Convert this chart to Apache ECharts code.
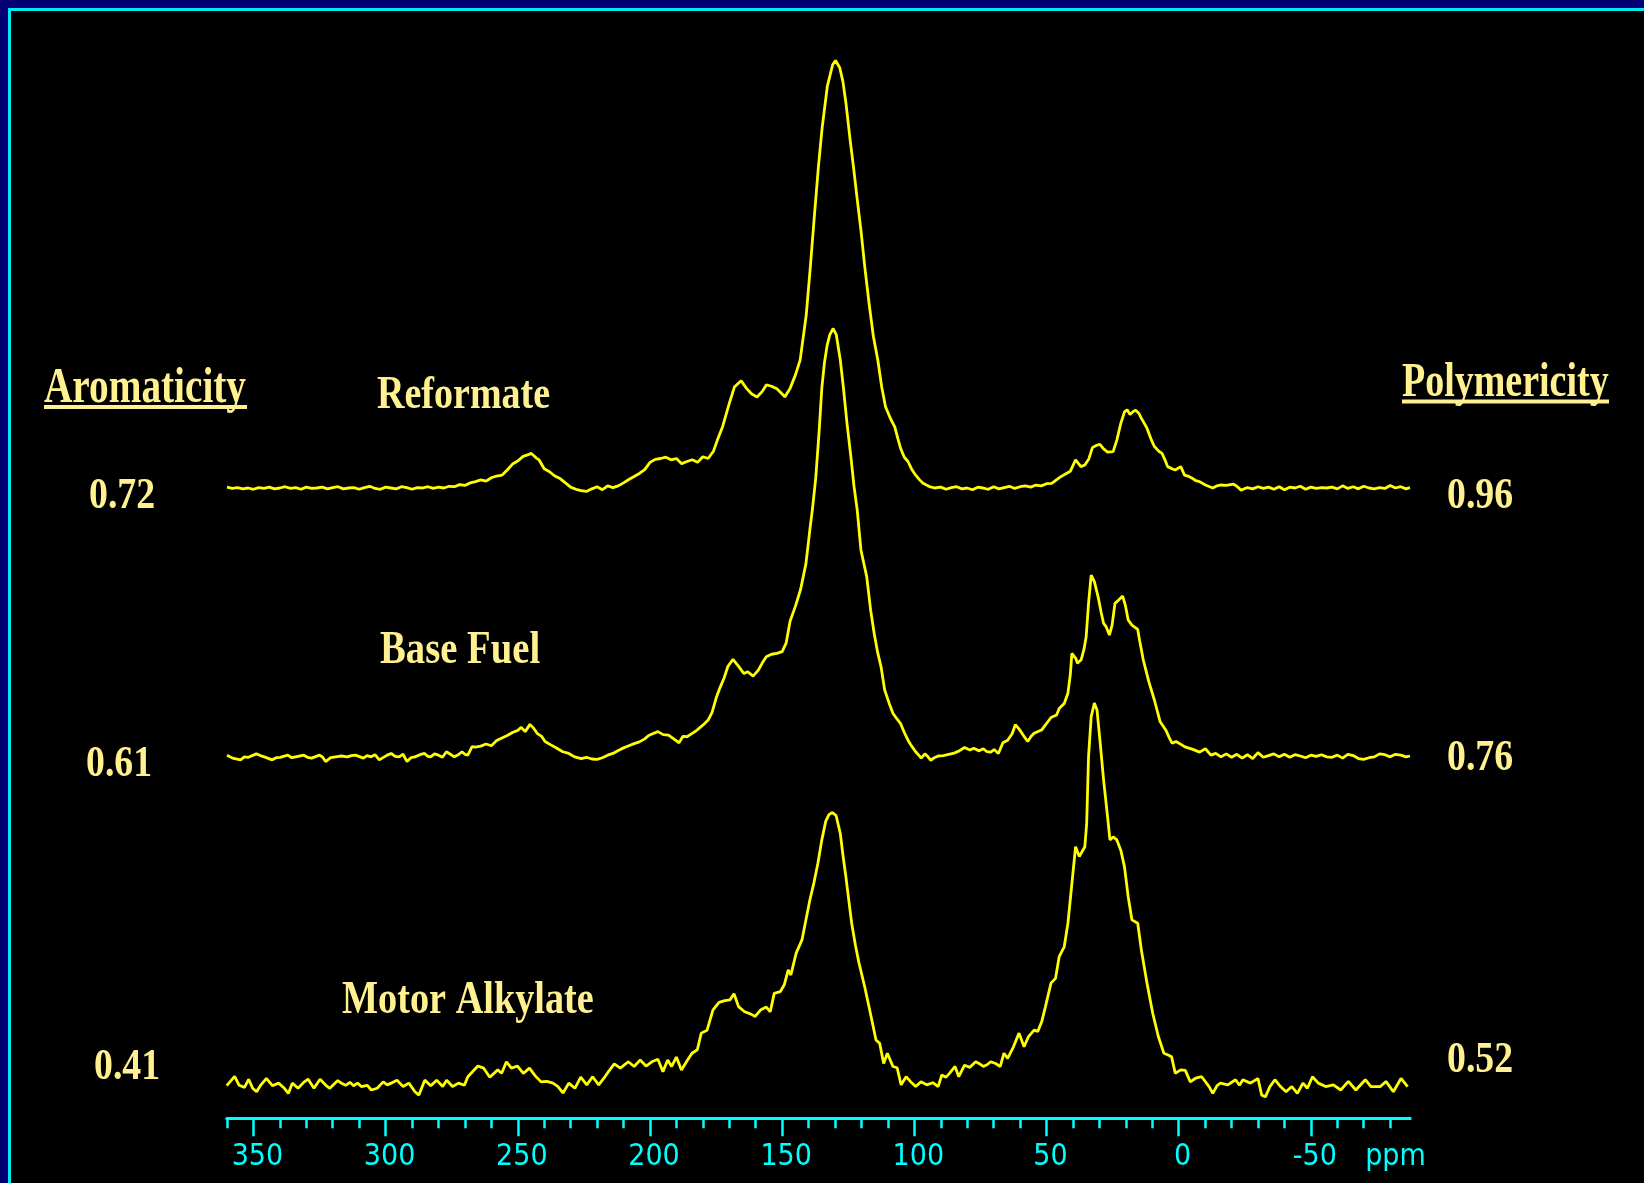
<!DOCTYPE html>
<html>
<head>
<meta charset="utf-8">
<title>13C NMR spectra</title>
<script src="https://cdn.jsdelivr.net/npm/echarts@6/dist/echarts.min.js"></script>
<style>
  html, body { margin: 0; padding: 0; background: #000; }
  #chart { width: 1644px; height: 1183px; }
</style>
</head>
<body>
<div id="chart"></div>
<script>
// Chemical-shift axis (ppm, high field to the right)
const ppmRange = [-87.5, 360];
const majorTicks = [350, 300, 250, 200, 150, 100, 50, 0, -50];
const minorTicks = [360, 340, 330, 320, 310, 290, 280, 270, 260, 240, 230, 220, 210, 190, 180, 170, 160,
  140, 130, 120, 110, 90, 80, 70, 60, 40, 30, 20, 10, -10, -20, -30, -40, -60, -70, -80];
const tickLabels = [350, 300, 250, 200, 150, 100, 50, 0, -50];
const unitLabel = { at: -80.5, text: 'ppm' };

// Sample names and the two indices printed beside each trace
const samples = ['Reformate', 'Base Fuel', 'Motor Alkylate'];
const aromaticity = ['0.72', '0.61', '0.41'];
const polymericity = ['0.96', '0.76', '0.52'];

// Intensities relative to each trace's own baseline ([ppm, intensity]), main Reformate peak = 100
const reformate = [
  [360, 0.2], [358, -0.1], [356, 0.1], [354, -0.2], [352, 0.0], [350, -0.3], [348, 0.1], [346, -0.1],
  [344, 0.2], [342, -0.2], [340, 0.0], [338, 0.3], [336, -0.1], [334, 0.1], [332, -0.3], [330, 0.2],
  [328, -0.1], [326, 0.0], [324, 0.2], [322, -0.2], [320, 0.1], [318, 0.3], [316, -0.2], [314, 0.0],
  [312, 0.1], [310, -0.3], [308, 0.1], [306, 0.4], [304, -0.1], [302, -0.3], [300, 0.2], [298, 0.0],
  [296, -0.2], [294, 0.3], [292, 0.1], [290, -0.3], [288, 0.1], [286, 0.0], [284, 0.3], [282, -0.1],
  [280, 0.2], [278, 0.0], [276, 0.4], [274, 0.3], [272, 0.8], [270, 0.6], [268, 1.2], [266, 1.5],
  [264, 1.9], [262, 1.6], [260, 2.4], [258, 2.8], [256, 3.0], [254, 4.2], [252, 5.6], [250, 6.3],
  [248, 7.4], [246, 7.8], [245, 8.1], [244, 7.6], [243, 7.0], [242, 6.6], [240, 4.5], [238, 3.8],
  [236, 2.8], [234, 2.2], [232, 1.2], [230, 0.2], [228, -0.3], [226, -0.6], [224, -0.8], [222, -0.2],
  [220, 0.3], [218, -0.4], [216, 0.5], [214, 0.1], [212, 0.5], [210, 1.2], [208, 2.0], [206, 2.7],
  [204, 3.4], [202, 4.3], [200, 6.0], [198, 6.7], [196, 6.9], [194, 7.2], [192, 6.6], [190, 6.9],
  [188, 5.7], [186, 6.2], [184, 6.6], [182, 6.0], [180, 7.3], [178, 6.9], [176, 8.6], [174.5, 11.2],
  [172.5, 14.4], [170, 19.8], [168, 23.7], [165.5, 25.1], [163.5, 23.3], [161.5, 22.0], [159.5, 21.3],
  [157.5, 22.6], [156, 24.1], [154, 23.8], [152, 23.2], [150, 22.0], [149, 21.3], [147, 23.3],
  [145, 26.4], [143.2, 29.9], [140.9, 40.4], [139.3, 52], [137.7, 64.5], [136.3, 75], [134.9, 84.1],
  [132.9, 94], [130.9, 99], [129.8, 100], [128.2, 98.3], [127, 95], [125.8, 89.7], [124.4, 82],
  [123, 75], [121.6, 67.5], [120.2, 60.3], [118.7, 51.5], [117.1, 43.1], [115.5, 35.5], [113.8, 29.9],
  [112.3, 23.5], [110.9, 19], [109, 16.2], [107.4, 14.3], [106.2, 11.5], [105.2, 9.3], [103.8, 7.2],
  [102.4, 6.2], [101, 4.4], [99.5, 3.0], [98, 1.9], [96.7, 1.1], [94.5, 0.4], [92.4, 0.0],
  [90, 0.2], [88, -0.3], [86, 0.1], [84, 0.3], [82, -0.2], [80, 0.0], [78, -0.4], [76, 0.2],
  [74, 0.0], [72, -0.3], [70, 0.3], [68, -0.2], [66, 0.1], [64, 0.4], [62, -0.1], [60, 0.3],
  [58, 0.5], [56, 0.2], [54, 0.7], [52, 0.5], [50, 1.0], [48, 1.1], [46.5, 1.8], [44.7, 2.6],
  [42.5, 3.4], [41, 3.9], [39, 6.6], [37, 5.0], [35.5, 5.4], [34, 6.8], [32.6, 9.5], [31, 10.0],
  [29.8, 10.2], [28.5, 9.2], [26.9, 8.4], [24.8, 8.5], [23.4, 11.2], [21.9, 15.1], [20.5, 17.8],
  [19.5, 18.3], [18.4, 17.2], [17.2, 17.9], [16.3, 18.2], [15, 17.4], [14.1, 16.3], [12, 14.0],
  [10.5, 11.5], [9.2, 9.7], [7.5, 8.6], [6.3, 8.1], [5, 6.3], [4.2, 5.0], [2.5, 4.5], [1.3, 4.2],
  [-0.8, 5.0], [-2.2, 3.0], [-3.5, 2.8], [-5.1, 2.3], [-6.5, 1.7], [-7.9, 1.5], [-10.1, 0.7],
  [-12.9, 0.0], [-14.5, 0.5], [-15.8, 0.7], [-18, 0.6], [-20.7, 0.9], [-22, 0.4], [-23.6, -0.5],
  [-26, 0.1], [-28, -0.2], [-30, 0.3], [-32, -0.1], [-34, 0.2], [-36, -0.3], [-38, 0.3], [-40, -0.4],
  [-42, 0.2], [-44, 0.0], [-46, 0.4], [-48, -0.3], [-50, 0.2], [-52, -0.1], [-54, 0.1], [-56, 0.0],
  [-58, 0.2], [-60, -0.2], [-62, 0.5], [-64, -0.1], [-66, 0.3], [-68, -0.2], [-70, 0.4], [-72, 0.0],
  [-74, -0.2], [-76, 0.1], [-78, -0.1], [-80, 0.6], [-82, 0.0], [-84, 0.3], [-86, -0.2], [-87.5, 0.1]
];

const baseFuel = [
  [360, 0.2], [357.9, -0.5], [354.9, -0.9], [353.4, -0.2], [351.9, -0.3], [348.9, 0.5], [347.4, 0.1],
  [345.9, -0.2], [342.9, -0.9], [341.4, -0.4], [339.9, -0.3], [337, 0.2], [335.5, -0.4], [334, -0.2],
  [331, 0.2], [329.5, -0.3], [328, -0.5], [325, 0.2], [323.8, -0.3], [322.7, -1.3], [320.8, -0.4],
  [318.9, -0.2], [316.7, 0.0], [314.5, -0.2], [313, 0.1], [311.4, 0.2], [308.4, -0.5], [307, 0.1],
  [305.5, -0.2], [304, 0.3], [302.4, -0.9], [299.4, 0.2], [297.9, 0.6], [296.4, -0.1], [294.9, -0.2],
  [293.4, 0.4], [291.9, -1.3], [290.4, -0.4], [288.9, -0.2], [287, 0.3], [285.3, 0.6], [284, -0.1],
  [283, -0.2], [281.5, 0.5], [280, 0.2], [278.5, -0.3], [277, 1.0], [275.5, 0.4], [274, -0.2],
  [272.5, 0.3], [271.1, 1.0], [270, 0.4], [268.9, 0.2], [267.3, 2.2], [266, 2.1], [264, 2.3],
  [262, 2.8], [260, 2.4], [258, 3.6], [256, 4.2], [254, 4.8], [252, 5.5], [250, 6.0], [248.7, 6.7],
  [247.2, 5.7], [245.4, 7.4], [244, 6.5], [242.7, 5.3], [241, 4.6], [239.7, 3.4], [237.5, 2.6],
  [235.2, 1.8], [233, 1.0], [230.7, 0.6], [228.5, -0.2], [226, -0.6], [224, -0.3], [222, -0.7],
  [220, -0.8], [218, -0.4], [216, 0.2], [214, 0.6], [212, 1.3], [210, 1.9], [208, 2.4], [206, 2.9],
  [204, 3.3], [202, 4.0], [200.5, 4.8], [199, 5.2], [197, 5.7], [195, 5.0], [193, 4.9], [191, 4.0],
  [189, 3.1], [187.5, 4.6], [186, 4.5], [184, 5.3], [182.5, 5.9], [181, 6.7], [179.5, 7.5],
  [178, 8.4], [176.5, 10.2], [175, 13.5], [173.5, 16.0], [172, 18.2], [170.5, 21.0], [168.6, 22.6],
  [166.4, 20.9], [164.5, 19.3], [163, 19.7], [161, 18.7], [159, 20.1], [157.5, 21.8], [156, 23.2],
  [154, 23.8], [152, 24.0], [150, 24.4], [148.5, 26.4], [147, 31.5], [145, 35], [143, 39],
  [141, 45], [139.5, 53], [138.5, 58], [137.3, 65], [136, 76], [135, 86], [134, 92], [133, 96],
  [132, 98.5], [130.7, 100], [129.5, 98.5], [128, 92.6], [126.8, 86], [125.5, 78], [124, 70],
  [122.8, 63], [121.6, 57.5], [120.2, 48.2], [118, 41.9], [116.5, 34], [115.2, 28.7], [113.8, 24],
  [112.6, 20.9], [111.2, 15.4], [109.5, 12.3], [108.1, 10.0], [106.5, 8.6], [105.2, 7.6],
  [103.8, 5.5], [102.4, 3.7], [101, 2.3], [99.5, 1.0], [98.5, 0.3], [97.4, -0.5], [96, 0.5],
  [94.8, -0.2], [93.8, -1.0], [92.4, -0.4], [91, 0.0], [89, 0.1], [87, 0.4], [85.3, 0.6], [83, 1.2],
  [81, 2.0], [79, 1.4], [77.5, 1.8], [75.5, 1.2], [73.9, 1.7], [72.5, 1.0], [71.1, 0.9], [69.8, 1.5],
  [68.2, 0.6], [66.5, 3.1], [64.7, 3.7], [63, 5.2], [61.8, 7.3], [60.5, 6.4], [59.7, 5.7],
  [58.3, 4.4], [57.1, 3.4], [55.8, 4.6], [54.7, 5.3], [53, 5.8], [51.8, 6.1], [50, 7.6], [48.3, 9.0],
  [46.2, 9.6], [45.2, 11.1], [43.3, 12.3], [41.9, 14.7], [41, 19], [40.4, 24.0], [39.8, 24.2],
  [38.9, 22.8], [38.3, 21.7], [36.9, 22.5], [35.8, 25], [35, 27.9], [34.1, 35.7], [33.1, 42.3],
  [31.9, 40.8], [30.5, 37.3], [29.3, 33.5], [28.4, 31.0], [27.4, 30.2], [26.2, 28.3], [25.2, 30.6],
  [24.1, 35.7], [22.7, 36.5], [21.2, 37.4], [20.2, 35.3], [19.1, 31.8], [17.7, 30.6], [15.5, 29.6],
  [14.8, 27.1], [13.4, 22.5], [11.3, 17.4], [9.2, 13.1], [7.0, 8.0], [4.9, 6.1], [3.5, 4.2],
  [2.5, 3.0], [1, 3.4], [-0.1, 3.0], [-2.2, 2.2], [-3.5, 1.9], [-5.1, 1.6], [-7.9, 0.9], [-10.1, 1.7],
  [-12.2, 0.2], [-14, 0.6], [-16, -0.2], [-18, 0.5], [-20, -0.3], [-22, 0.4], [-24, -0.5], [-26, 0.3],
  [-28, -0.6], [-30, 0.8], [-32, -0.3], [-34, 0.1], [-36, 0.5], [-38, -0.2], [-40, 0.4], [-42, -0.3],
  [-44, 0.3], [-46, 0.0], [-48, -0.4], [-50, 0.2], [-52, -0.1], [-54, 0.3], [-56, -0.2], [-58, -0.3],
  [-60, 0.2], [-62, -0.5], [-64, 0.4], [-66, 0.1], [-68, -0.6], [-70, -0.8], [-72, -0.4], [-74, -0.2],
  [-76, 0.5], [-78, 0.3], [-80, -0.2], [-82, 0.4], [-84, 0.2], [-86, -0.2], [-87.5, 0.0]
];

const motorAlkylate = [
  [360.1, -0.4], [357.1, 1.8], [355.4, -0.3], [353.4, -0.8], [351.8, 1.1], [350.3, -1.0],
  [348.8, -1.8], [347.3, -0.3], [345.1, 1.3], [342.8, -0.4], [340.5, 0.2], [338.3, -1.0],
  [336.8, -2.2], [335.3, 0.2], [333.1, -1.0], [330.8, 0.5], [329.3, 1.1], [327.1, -1.0],
  [324.8, 1.1], [322.6, -0.3], [321.1, -1.0], [318.1, 0.8], [316.5, 0.1], [315.1, -0.3],
  [313.5, 0.4], [312.1, -0.4], [310.6, 0.2], [309.2, -0.6], [306.9, -0.3], [305.4, -1.4],
  [303.2, -1.0], [300.9, 0.5], [299.4, -0.2], [297.9, 0.2], [295.7, 0.9], [293.4, -0.6],
  [291.2, 0.2], [288.9, -1.8], [287.4, -2.6], [285.2, 0.9], [282.9, -0.4], [280.7, 0.9],
  [278.4, -0.6], [276.9, 0.9], [274.7, -0.6], [272.4, 0.2], [270.2, -0.3], [268.9, 1.7],
  [265.1, 4.2], [262.9, 3.7], [260.6, 1.6], [257.6, 3.3], [256.1, 2.5], [254.3, 5.2], [252.4, 3.7],
  [250.1, 4.2], [247.9, 2.5], [245.6, 3.7], [243.4, 1.9], [241.2, 0.5], [239, 0.6], [236.7, 0.2],
  [234.8, -0.6], [232.9, -2.1], [230.7, 0.2], [228.4, -1.0], [226.2, 1.6], [223.9, -0.2],
  [221.7, 1.7], [219.4, -0.2], [217.5, 1.3], [215.7, 2.9], [213.5, 4.7], [211.2, 3.7], [208.2, 5.2],
  [206, 4.1], [203.7, 5.6], [201.5, 4.2], [199.3, 5.2], [197, 5.8], [195.1, 2.9], [193.3, 5.6],
  [191.8, 4.1], [190, 6.3], [188.1, 3.3], [185.9, 5.5], [184.1, 7.2], [182.1, 8.0], [180.6, 11.9],
  [178.4, 12.6], [176.2, 17.3], [173.9, 19.1], [171.7, 19.5], [169.7, 19.7], [168.2, 21.1],
  [166.5, 18.1], [164.2, 16.9], [162, 16.4], [160.2, 15.8], [158.2, 17.3], [156, 18.0],
  [154.5, 16.9], [153, 21.2], [150.7, 21.6], [149.2, 23.2], [147.7, 26.7], [146.7, 25.5],
  [144.7, 30.6], [142.5, 33.7], [141, 38.4], [139.5, 43.1], [138, 47.0], [136.5, 51.6], [135, 57.1],
  [133.5, 61.5], [132.3, 63], [131, 63.5], [129.6, 62.8], [128, 58.6], [127, 53.5], [125.9, 48.5],
  [124.8, 43], [123.7, 37.6], [122.3, 32.5], [120.9, 28.2], [118.8, 22.8], [116.6, 16.5],
  [114.5, 10.3], [113.1, 9.5], [111.6, 4.8], [110.2, 7.2], [108.1, 4.1], [106.5, 3.8], [105, -0.2],
  [103.1, 1.7], [101.5, 0.6], [99.5, -0.6], [97.5, 0.5], [95.3, -0.2], [93, 0.3], [91, -0.6],
  [89.6, 2.1], [88, 1.6], [86.7, 2.5], [84.6, 4.1], [83.2, 1.7], [81, 4.4], [79, 3.9], [76.8, 5.2],
  [75, 4.6], [73.9, 4.1], [72.5, 4.5], [71.1, 5.2], [69.3, 4.8], [67.5, 4.1], [66.1, 7.2],
  [64.7, 6.0], [62.5, 8.7], [60.4, 11.9], [58.5, 8.7], [56.8, 11.1], [54.7, 12.6], [53.3, 12.3],
  [51.8, 14.6], [50.4, 18.1], [48.3, 23.6], [46.6, 24.7], [45.2, 29.8], [43.3, 32.1], [41.9, 37.6],
  [40.4, 46.9], [39, 55.5], [37.6, 53.2], [35.5, 55.5], [34.8, 61], [34.1, 76.6], [33.1, 85.9],
  [31.9, 89.1], [30.9, 87.5], [29.8, 80.5], [28.4, 71.1], [26.9, 62.5], [26, 57.1], [24.8, 57.8],
  [23.4, 57.1], [21.9, 54.7], [20.5, 50.8], [19.1, 43.8], [17.7, 38.4], [15.5, 37.6], [14.1, 31.3],
  [12, 23.6], [9.8, 16.5], [7.7, 11.1], [5.6, 7.2], [4, 6.8], [2.7, 6.4], [1.3, 2.5], [0, 3.0],
  [-0.8, 3.3], [-2.5, 3.2], [-4.4, 0.5], [-6.5, 1.4], [-8.7, 1.7], [-11.5, -0.6], [-12.9, -2.2],
  [-14.5, -0.4], [-15.8, 0.2], [-18.6, -0.2], [-21.5, 1.0], [-23, -0.3], [-24.3, 1.0], [-27.1, 0.2],
  [-30, 1.3], [-31.4, -2.6], [-32.8, -3.0], [-34.5, -0.6], [-36.4, 1.0], [-38.5, -0.6],
  [-40.6, -1.8], [-42.8, -0.6], [-44.9, -2.2], [-47, 0.2], [-48.7, -1.0], [-50.6, 1.7],
  [-52.8, 0.2], [-55.6, -0.6], [-58.5, -0.2], [-61.3, -1.4], [-64.2, 0.6], [-67, -1.4],
  [-70.6, 1.0], [-72.7, -0.6], [-76.3, -0.6], [-78.4, 0.6], [-81.2, -1.8], [-84.1, 1.3], [-86.6, -0.6]
];

const traces = [reformate, baseFuel, motorAlkylate];

// Layout: every trace shares the same horizontal scale and the same intensity scale
const plotLeft = 227, plotWidth = 1183;
const baselines = [488, 756, 1084];
const pxPerUnit = 4.275;
const yRange = [-8, 110];
const gridHeight = (yRange[1] - yRange[0]) * pxPerUnit;

const textColor = '#FFF18F';
const traceColor = '#FFFF00';
const axisColor = '#00FFFF';
const serif = "'Liberation Serif', 'Times New Roman', serif";
const axisFont = "'DejaVu Sans Condensed', 'Liberation Sans Narrow', sans-serif";

const grids = baselines.map(b => ({
  left: plotLeft, width: plotWidth, top: b - yRange[1] * pxPerUnit, height: gridHeight,
  outerBoundsMode: 'none'
}));
// extra grid that only carries the minor tick marks of the ppm axis
grids.push(Object.assign({}, grids[2]));

const baseX = { type: 'value', min: ppmRange[0], max: ppmRange[1], inverse: true,
  splitLine: { show: false } };
const xAxes = [
  Object.assign({ gridIndex: 0, show: false }, baseX),
  Object.assign({ gridIndex: 1, show: false }, baseX),
  Object.assign({ gridIndex: 2, position: 'bottom' }, baseX, {
    axisLine: { show: true, onZero: false, lineStyle: { color: axisColor, width: 3 } },
    axisTick: { show: true, customValues: majorTicks, length: 18, lineStyle: { color: axisColor, width: 2.5 } },
    axisLabel: {
      show: true, customValues: tickLabels.concat([unitLabel.at]), margin: 24,
      color: axisColor, fontFamily: axisFont, fontSize: 30, padding: [0, 0, 0, 8],
      formatter: v => (v === unitLabel.at ? unitLabel.text : String(v))
    }
  }),
  Object.assign({ gridIndex: 3, position: 'bottom' }, baseX, {
    axisLine: { show: true, onZero: false, lineStyle: { color: axisColor, width: 3 } },
    axisTick: { show: true, customValues: minorTicks, length: 10, lineStyle: { color: axisColor, width: 2.5 } },
    axisLabel: { show: false }
  })
];
const yAxes = [0, 1, 2, 3].map(i => ({ gridIndex: i, type: 'value', min: yRange[0], max: yRange[1], show: false }));

const series = traces.map((d, i) => ({
  type: 'line', xAxisIndex: i, yAxisIndex: i, data: d, showSymbol: false, symbol: 'none',
  lineStyle: { color: traceColor, width: 2.8 }, silent: true, z: 3
}));

// Text labels (narrow bold serif, drawn with a horizontal squeeze)
function label(text, left, baseline, size, sx) {
  return {
    type: 'text', x: left, y: baseline - 0.335 * size + 4, scaleX: sx, z: 10, silent: true,
    style: { text: text, font: 'bold ' + size + 'px ' + serif, fill: textColor,
      textAlign: 'left', textVerticalAlign: 'middle', verticalAlign: 'middle' }
  };
}
const valueRows = [507, 775, 1078];
const valueRowsRight = [507, 769, 1071];
const nameLefts = [377, 380, 342];
const nameBaselines = [408, 663, 1013];
const nameScales = [0.845, 0.86, 0.85];
const graphics = [
  // window frame
  { type: 'rect', shape: { x: 0, y: 0, width: 1644, height: 8 }, style: { fill: '#000074' }, silent: true },
  { type: 'rect', shape: { x: 0, y: 0, width: 8, height: 1183 }, style: { fill: '#000074' }, silent: true },
  { type: 'rect', shape: { x: 8, y: 8, width: 1636, height: 3 }, style: { fill: '#00E8F0' }, silent: true },
  { type: 'rect', shape: { x: 8, y: 8, width: 3, height: 1175 }, style: { fill: '#00E8F0' }, silent: true },
  label('Aromaticity', 44, 402, 50, 0.785),
  { type: 'rect', shape: { x: 44, y: 405, width: 203, height: 4 }, style: { fill: textColor }, silent: true },
  label('Polymericity', 1402, 396, 49, 0.775),
  { type: 'rect', shape: { x: 1402, y: 399.5, width: 207, height: 4 }, style: { fill: textColor }, silent: true }
];
samples.forEach((s, i) => graphics.push(label(s, nameLefts[i], nameBaselines[i], 46, nameScales[i] * 45 / 46)));
aromaticity.forEach((v, i) => graphics.push(label(v, [89, 86, 94][i], valueRows[i], 45, 0.84)));
polymericity.forEach((v, i) => graphics.push(label(v, 1447, valueRowsRight[i], 45, 0.84)));

const chart = echarts.init(document.getElementById('chart'), null, { renderer: 'canvas' });
chart.setOption({
  backgroundColor: '#000000',
  animation: false,
  grid: grids,
  xAxis: xAxes,
  yAxis: yAxes,
  series: series,
  graphic: { elements: graphics }
});
</script>
</body>
</html>
